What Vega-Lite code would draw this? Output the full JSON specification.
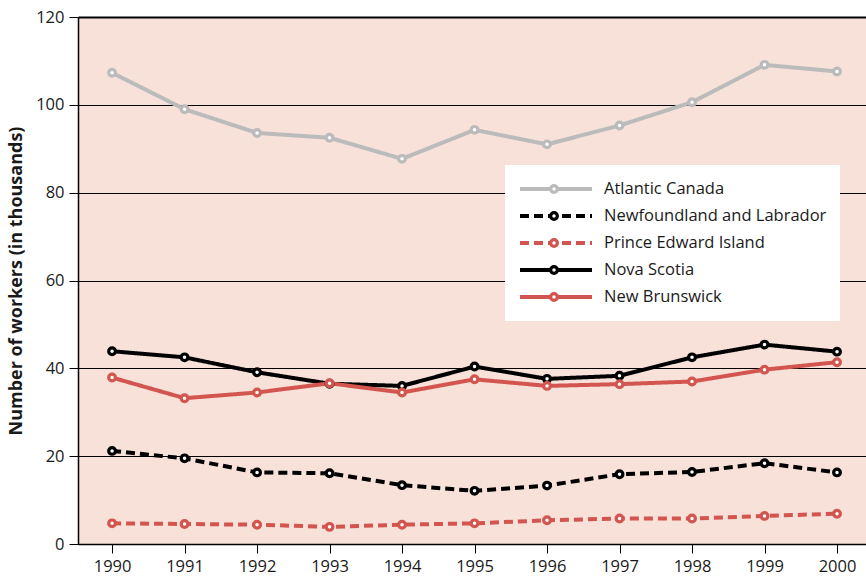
{
  "$schema": "https://vega.github.io/schema/vega-lite/v6.json",
  "width": 788,
  "height": 527,
  "autosize": {"type": "none"},
  "padding": {"left": 78, "top": 17, "right": 0, "bottom": 36},
  "background": "white",
  "config": {
    "view": {"fill": "#f7e1d8", "stroke": null},
    "font": "Open Sans"
  },
  "data": {
    "values": [
      {"series": "Atlantic Canada", "year": 1990, "value": 107.3},
      {"series": "Atlantic Canada", "year": 1991, "value": 99.0},
      {"series": "Atlantic Canada", "year": 1992, "value": 93.6},
      {"series": "Atlantic Canada", "year": 1993, "value": 92.5},
      {"series": "Atlantic Canada", "year": 1994, "value": 87.7},
      {"series": "Atlantic Canada", "year": 1995, "value": 94.3},
      {"series": "Atlantic Canada", "year": 1996, "value": 91.0},
      {"series": "Atlantic Canada", "year": 1997, "value": 95.3},
      {"series": "Atlantic Canada", "year": 1998, "value": 100.6},
      {"series": "Atlantic Canada", "year": 1999, "value": 109.1},
      {"series": "Atlantic Canada", "year": 2000, "value": 107.6},
      {"series": "Newfoundland and Labrador", "year": 1990, "value": 21.2},
      {"series": "Newfoundland and Labrador", "year": 1991, "value": 19.5},
      {"series": "Newfoundland and Labrador", "year": 1992, "value": 16.3},
      {"series": "Newfoundland and Labrador", "year": 1993, "value": 16.1},
      {"series": "Newfoundland and Labrador", "year": 1994, "value": 13.4},
      {"series": "Newfoundland and Labrador", "year": 1995, "value": 12.1},
      {"series": "Newfoundland and Labrador", "year": 1996, "value": 13.3},
      {"series": "Newfoundland and Labrador", "year": 1997, "value": 15.9},
      {"series": "Newfoundland and Labrador", "year": 1998, "value": 16.4},
      {"series": "Newfoundland and Labrador", "year": 1999, "value": 18.4},
      {"series": "Newfoundland and Labrador", "year": 2000, "value": 16.3},
      {"series": "Prince Edward Island", "year": 1990, "value": 4.7},
      {"series": "Prince Edward Island", "year": 1991, "value": 4.55},
      {"series": "Prince Edward Island", "year": 1992, "value": 4.4},
      {"series": "Prince Edward Island", "year": 1993, "value": 3.9},
      {"series": "Prince Edward Island", "year": 1994, "value": 4.4},
      {"series": "Prince Edward Island", "year": 1995, "value": 4.7},
      {"series": "Prince Edward Island", "year": 1996, "value": 5.4},
      {"series": "Prince Edward Island", "year": 1997, "value": 5.8},
      {"series": "Prince Edward Island", "year": 1998, "value": 5.8},
      {"series": "Prince Edward Island", "year": 1999, "value": 6.4},
      {"series": "Prince Edward Island", "year": 2000, "value": 6.9},
      {"series": "Nova Scotia", "year": 1990, "value": 43.9},
      {"series": "Nova Scotia", "year": 1991, "value": 42.5},
      {"series": "Nova Scotia", "year": 1992, "value": 39.1},
      {"series": "Nova Scotia", "year": 1993, "value": 36.5},
      {"series": "Nova Scotia", "year": 1994, "value": 36.0},
      {"series": "Nova Scotia", "year": 1995, "value": 40.4},
      {"series": "Nova Scotia", "year": 1996, "value": 37.6},
      {"series": "Nova Scotia", "year": 1997, "value": 38.3},
      {"series": "Nova Scotia", "year": 1998, "value": 42.5},
      {"series": "Nova Scotia", "year": 1999, "value": 45.4},
      {"series": "Nova Scotia", "year": 2000, "value": 43.8},
      {"series": "New Brunswick", "year": 1990, "value": 37.9},
      {"series": "New Brunswick", "year": 1991, "value": 33.2},
      {"series": "New Brunswick", "year": 1992, "value": 34.5},
      {"series": "New Brunswick", "year": 1993, "value": 36.6},
      {"series": "New Brunswick", "year": 1994, "value": 34.5},
      {"series": "New Brunswick", "year": 1995, "value": 37.5},
      {"series": "New Brunswick", "year": 1996, "value": 36.0},
      {"series": "New Brunswick", "year": 1997, "value": 36.4},
      {"series": "New Brunswick", "year": 1998, "value": 37.0},
      {"series": "New Brunswick", "year": 1999, "value": 39.7},
      {"series": "New Brunswick", "year": 2000, "value": 41.4}
    ]
  },
  "encoding": {
    "x": {
      "field": "year",
      "type": "quantitative",
      "scale": {"domain": [1989.53, 2000.4], "nice": false, "zero": false},
      "axis": {
        "title": null,
        "values": [1990, 1991, 1992, 1993, 1994, 1995, 1996, 1997, 1998, 1999, 2000],
        "format": "d",
        "grid": false,
        "domainColor": "black",
        "domainWidth": 1.5,
        "tickColor": "black",
        "tickSize": 9,
        "labelFontSize": 16.5,
        "labelColor": "#1a1a1a",
        "labelPadding": 5
      }
    },
    "y": {
      "field": "value",
      "type": "quantitative",
      "scale": {"domain": [0, 120], "nice": false},
      "axis": {
        "title": "Number of workers (in thousands)",
        "titleFontSize": 18,
        "titleFontWeight": "bold",
        "titleColor": "#1a1a1a",
        "titlePadding": 10,
        "values": [0, 20, 40, 60, 80, 100, 120],
        "grid": true,
        "gridColor": "black",
        "gridOpacity": 1,
        "gridWidth": {"condition": {"test": "datum.value === 120", "value": 2}, "value": 1},
        "domainColor": "black",
        "domainWidth": 1.5,
        "tickColor": "black",
        "tickSize": 9,
        "labelFontSize": 16.5,
        "labelColor": "#1a1a1a",
        "labelPadding": 5
      }
    }
  },
  "layer": [
    {
      "mark": {"type": "line", "strokeWidth": 4},
      "encoding": {
        "color": {
          "field": "series",
          "type": "nominal",
          "scale": {
            "domain": ["Atlantic Canada", "Newfoundland and Labrador", "Prince Edward Island", "Nova Scotia", "New Brunswick"],
            "range": ["#bbbbbb", "#000000", "#d2554f", "#000000", "#d2554f"]
          },
          "legend": {
            "title": null,
            "orient": "none",
            "legendX": 427,
            "legendY": 148,
            "padding": 13,
            "fillColor": "white",
            "symbolType": "stroke",
            "symbolSize": 5184,
            "symbolStrokeWidth": 4,
            "clipHeight": 22,
            "rowPadding": 5,
            "labelFontSize": 16.5,
            "labelColor": "#1a1a1a",
            "labelOffset": 10,
            "labelLimit": 0
          }
        },
        "strokeDash": {
          "field": "series",
          "type": "nominal",
          "scale": {
            "domain": ["Atlantic Canada", "Newfoundland and Labrador", "Prince Edward Island", "Nova Scotia", "New Brunswick"],
            "range": [[1, 0], [9, 5], [9, 5], [1, 0], [1, 0]]
          },
          "legend": {
            "title": null,
            "orient": "none",
            "legendX": 427,
            "legendY": 148,
            "padding": 13,
            "fillColor": "white",
            "symbolType": "stroke",
            "symbolSize": 5184,
            "symbolStrokeWidth": 4,
            "clipHeight": 22,
            "rowPadding": 5,
            "labelFontSize": 16.5,
            "labelColor": "#1a1a1a",
            "labelOffset": 10,
            "labelLimit": 0
          }
        }
      }
    },
    {
      "mark": {"type": "point", "filled": true, "fill": "white", "size": 45, "strokeWidth": 3.2, "opacity": 1},
      "encoding": {
        "stroke": {
          "field": "series",
          "type": "nominal",
          "sort": ["Atlantic Canada", "Newfoundland and Labrador", "Prince Edward Island", "Nova Scotia", "New Brunswick"],
          "scale": {
            "range": ["#bbbbbb", "#000000", "#d2554f", "#000000", "#d2554f"]
          },
          "legend": {
            "title": null,
            "orient": "none",
            "legendX": 458,
            "legendY": 148,
            "padding": 13,
            "symbolType": "circle",
            "symbolSize": 45,
            "symbolStrokeWidth": 3.2,
            "symbolFillColor": "white",
            "symbolOpacity": 1,
            "clipHeight": 22,
            "rowPadding": 5,
            "labelFontSize": 1,
            "labelColor": "transparent",
            "labelOffset": 0
          }
        }
      }
    }
  ]
}
